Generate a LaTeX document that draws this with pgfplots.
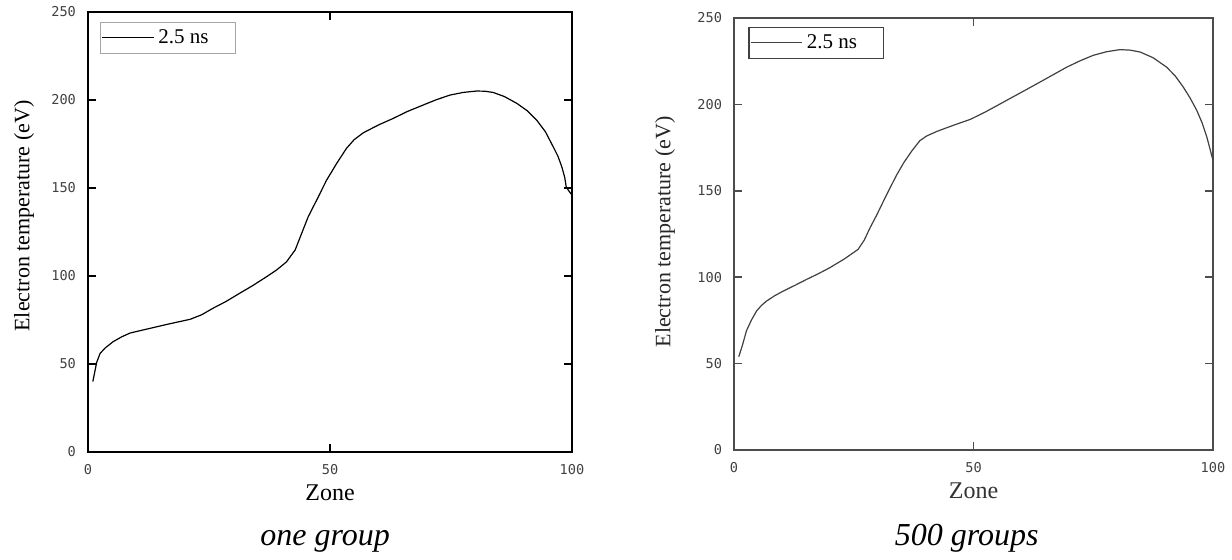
\documentclass[border=0pt]{standalone}
\usepackage{fontspec}
\setmainfont{Liberation Serif}
\newfontfamily\tickfont{DejaVu Sans Mono}
\usepackage{pgfplots}
\pgfplotsset{compat=1.18}

\pgfplotsset{
  zoneplot/.style={
    scale only axis,
    xmin=0, xmax=100, ymin=0, ymax=250,
    xtick={0,50,100}, ytick={0,50,...,250},
    tick align=inside, tick pos=both,
    major tick length=4pt,
    /pgf/number format/assume math mode=true,
    tick label style={font=\tickfont\fontsize{6.8}{7}\selectfont, text=black!75},
    yticklabel style={xshift=-2.5pt},
    xticklabel style={yshift=-2.5pt},
    xlabel={Zone},
    ylabel={Electron temperature (eV)},
    xlabel style={at={(axis description cs:0.5,0)}, anchor=center, yshift=-20.25pt,
      font=\fontsize{12}{14}\selectfont},
    ylabel style={at={(axis description cs:0,0.5)}, anchor=center,
      font=\fontsize{11}{13}\selectfont},
    legend cell align=left,
    legend image code/.code={\draw[#1] (1.2pt,0pt) -- (27pt,0pt);},
    legend style={anchor=north west, fill=white, inner xsep=0.5pt, inner ysep=1.5pt,
      font=\fontsize{10.5}{12}\selectfont},
    clip=false,
  },
}

\begin{document}
\begin{tikzpicture}
\path[use as bounding box] (0,0) rectangle (616pt,279.5pt);

% one group
\begin{axis}[zoneplot,
  at={(44pt,53.5pt)}, anchor=south west,
  width=242pt, height=220pt,
  axis line style={black, line width=0.75pt},
  tick style={black, line width=0.75pt},
  ylabel style={xshift=8pt, yshift=32pt},
  legend style={at={(0.025,0.978)}, draw=black!35, line width=0.5pt},
]
\addplot[black, line width=0.6pt] coordinates {
(1,40) (1.8,51) (2.5,56) (3.5,59) (5.2,62.7) (7,65.5) (8.7,67.6) (12.1,69.8)
(16.3,72.5) (21.1,75.4) (23.5,78) (25.9,81.8) (28.5,85.5) (31.4,90.3) (34,94.5)
(36.9,99.6) (39,103.5) (41,108) (42.8,114.8) (44.4,126) (45.5,133.7) (47.5,144.5)
(49.3,154.5) (51.5,164.5) (53.4,172.5) (55,177.5) (56.9,181.4) (60,185.8)
(63.1,189.6) (66,193.5) (69.3,197.2) (72,200.2) (74.8,202.8) (77.5,204.3)
(80.3,205.1) (82,205) (83.7,204.3) (86,202) (88.6,198.1) (90.7,194) (92.7,188.6)
(94.5,182) (96.1,173.5) (97.1,168) (97.9,162) (98.5,156) (98.8,150.7) (99.3,148.5)
(100,146)
};
\addlegendentry{\makebox[36pt][l]{2.5 ns}}
\node[font=\itshape\fontsize{16}{18}\selectfont, anchor=base]
  at (axis description cs:0.49,0) [yshift=-46.5pt] {one group};
\end{axis}

% 500 groups
\begin{axis}[zoneplot,
  at={(367pt,54.5pt)}, anchor=south west,
  width=239.5pt, height=216pt,
  axis line style={black!70, line width=0.75pt},
  tick style={black!70, line width=0.75pt},
  ylabel style={xshift=1pt, yshift=34.5pt, text=black!85},
  xlabel style={text=black!80},
  legend style={at={(0.03,0.98)}, draw=black!75, line width=0.6pt},
]
\addplot[black!75, line width=0.6pt] coordinates {
(1,54) (1.8,61) (2.6,69) (3.6,75) (4.7,80.4) (5.7,83.6) (6.8,86.2) (8.5,89.3)
(10.3,92) (12.8,95.4) (15.2,98.8) (17.6,102) (20,105.5) (23,110.5) (25.9,116.1)
(27.2,121.5) (28.4,128.6) (29.8,136) (31.2,144) (32.6,151.8) (34,159.4)
(35.5,166.5) (37.1,173) (38.8,179) (40.2,181.7) (42.3,184.3) (44.4,186.5)
(46.8,188.9) (49.3,191.3) (52.4,195.5) (55.5,200.2) (59,205.5) (62.5,210.8)
(66,216.2) (69.5,221.6) (72.3,225.3) (75,228.4) (77.8,230.5) (80.6,231.7)
(82.7,231.4) (84.8,230.3) (87.5,227) (90.3,221.6) (92.1,216.5) (93.8,210)
(95.2,203.8) (96.6,196.6) (97.7,189.5) (98.7,181.2) (99.3,175) (99.8,169.6) (100,168)
};
\addlegendentry{\makebox[36pt][l]{2.5 ns}}
\node[font=\itshape\fontsize{16}{18}\selectfont, anchor=base]
  at (axis description cs:0.486,0) [yshift=-47.5pt] {500 groups};
\end{axis}
\end{tikzpicture}
\end{document}
